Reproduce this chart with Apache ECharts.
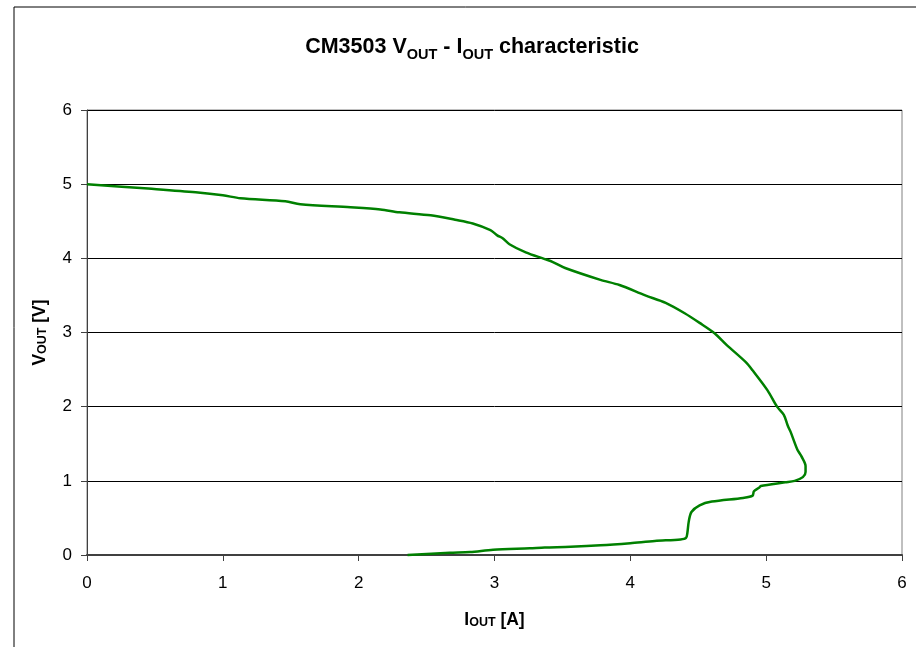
<!DOCTYPE html>
<html><head><meta charset="utf-8">
<script src="https://cdn.jsdelivr.net/npm/echarts@6/dist/echarts.min.js"></script>
<style>html,body{margin:0;padding:0;background:#fff}#c{width:916px;height:647px}</style>
</head><body><div id="c"></div>
<script>
const iout = [0.00,0.45,0.80,1.00,1.13,1.46,1.57,1.94,2.16,2.30,2.53,2.71,2.84,2.97,3.02,3.06,3.11,3.23,3.37,3.43,3.52,3.78,3.92,4.11,4.26,4.40,4.51,4.62,4.71,4.85,4.90,5.01,5.08,5.13,5.16,5.18,5.23,5.26,5.29,5.29,5.27,5.21,5.14,4.96,4.95,4.91,4.90,4.83,4.60,4.51,4.45,4.43,4.42,4.41,4.37,4.18,4.00,3.78,3.56,3.37,3.26,2.99,2.82,2.67,2.36];
const vout = [5.00,4.94,4.89,4.85,4.81,4.77,4.73,4.69,4.66,4.62,4.58,4.52,4.47,4.38,4.31,4.27,4.19,4.08,3.99,3.95,3.87,3.71,3.64,3.50,3.40,3.26,3.13,2.99,2.83,2.60,2.49,2.22,2.00,1.89,1.74,1.66,1.42,1.33,1.20,1.12,1.05,1.00,0.98,0.93,0.91,0.86,0.80,0.77,0.72,0.67,0.58,0.45,0.30,0.23,0.21,0.19,0.16,0.13,0.11,0.10,0.09,0.07,0.04,0.03,0.00];
const xTicks = [0,1,2,3,4,5,6];
const yTicks = [0,1,2,3,4,5,6];
const pts = iout.map((x,i)=>[x,vout[i]]);
const F = '"Liberation Sans", Arial, sans-serif';
const chart = echarts.init(document.getElementById('c'));
chart.setOption({
  animation:false,
  backgroundColor:'#fff',
  graphic:[{type:'rect',shape:{x:14,y:7,width:1000,height:1000},style:{fill:'none',stroke:'#000',lineWidth:1}}],
  title:{
    text:'{b|CM3503 V}{s|OUT}{b| - I}{s|OUT}{b| characteristic}',
    left:467, top:27, textAlign:'center',
    textStyle:{rich:{
      b:{fontFamily:F,fontWeight:'bold',fontSize:21.5,color:'#000',verticalAlign:'bottom',lineHeight:26},
      s:{fontFamily:F,fontWeight:'bold',fontSize:14.5,color:'#000',verticalAlign:'bottom',lineHeight:20,padding:[0,0,-4,0]}
    }}
  },
  grid:{left:87,right:14,top:110,bottom:92,show:true,borderColor:'#808080',borderWidth:1},
  xAxis:{
    type:'value',min:0,max:6,interval:1,
    name:'{b|I}{s|OUT}{b| [A]}',nameLocation:'middle',nameGap:56,
    nameTextStyle:{rich:{
      b:{fontFamily:F,fontWeight:'bold',fontSize:17.5,color:'#000'},
      s:{fontFamily:F,fontWeight:'bold',fontSize:12.5,color:'#000',padding:[5,0,0,0]}
    }},
    axisLine:{show:true,lineStyle:{color:'#404040',width:2}},
    axisTick:{show:true,inside:false,length:6,lineStyle:{color:'#404040'}},
    axisLabel:{fontFamily:F,fontSize:17,color:'#000',margin:20,formatter:v=>xTicks.includes(v)?String(v):''},
    splitLine:{show:false}
  },
  yAxis:{
    type:'value',min:0,max:6,interval:1,
    name:'{b|V}{s|OUT}{b| [V]}',nameLocation:'middle',nameGap:38,nameRotate:90,
    nameTextStyle:{rich:{
      b:{fontFamily:F,fontWeight:'bold',fontSize:17.5,color:'#000'},
      s:{fontFamily:F,fontWeight:'bold',fontSize:12.5,color:'#000',padding:[5,0,0,0]}
    }},
    axisLine:{show:true,lineStyle:{color:'#404040',width:1}},
    axisTick:{show:true,inside:false,length:6,lineStyle:{color:'#404040'}},
    axisLabel:{fontFamily:F,fontSize:17,color:'#000',margin:15,formatter:v=>yTicks.includes(v)?String(v):''},
    splitLine:{show:true,lineStyle:{color:'#000',width:1}}
  },
  series:[{
    type:'line',data:pts,showSymbol:false,smooth:0.3,
    lineStyle:{color:'#008000',width:2.5},
    clip:false
  }]
});
</script></body></html>
